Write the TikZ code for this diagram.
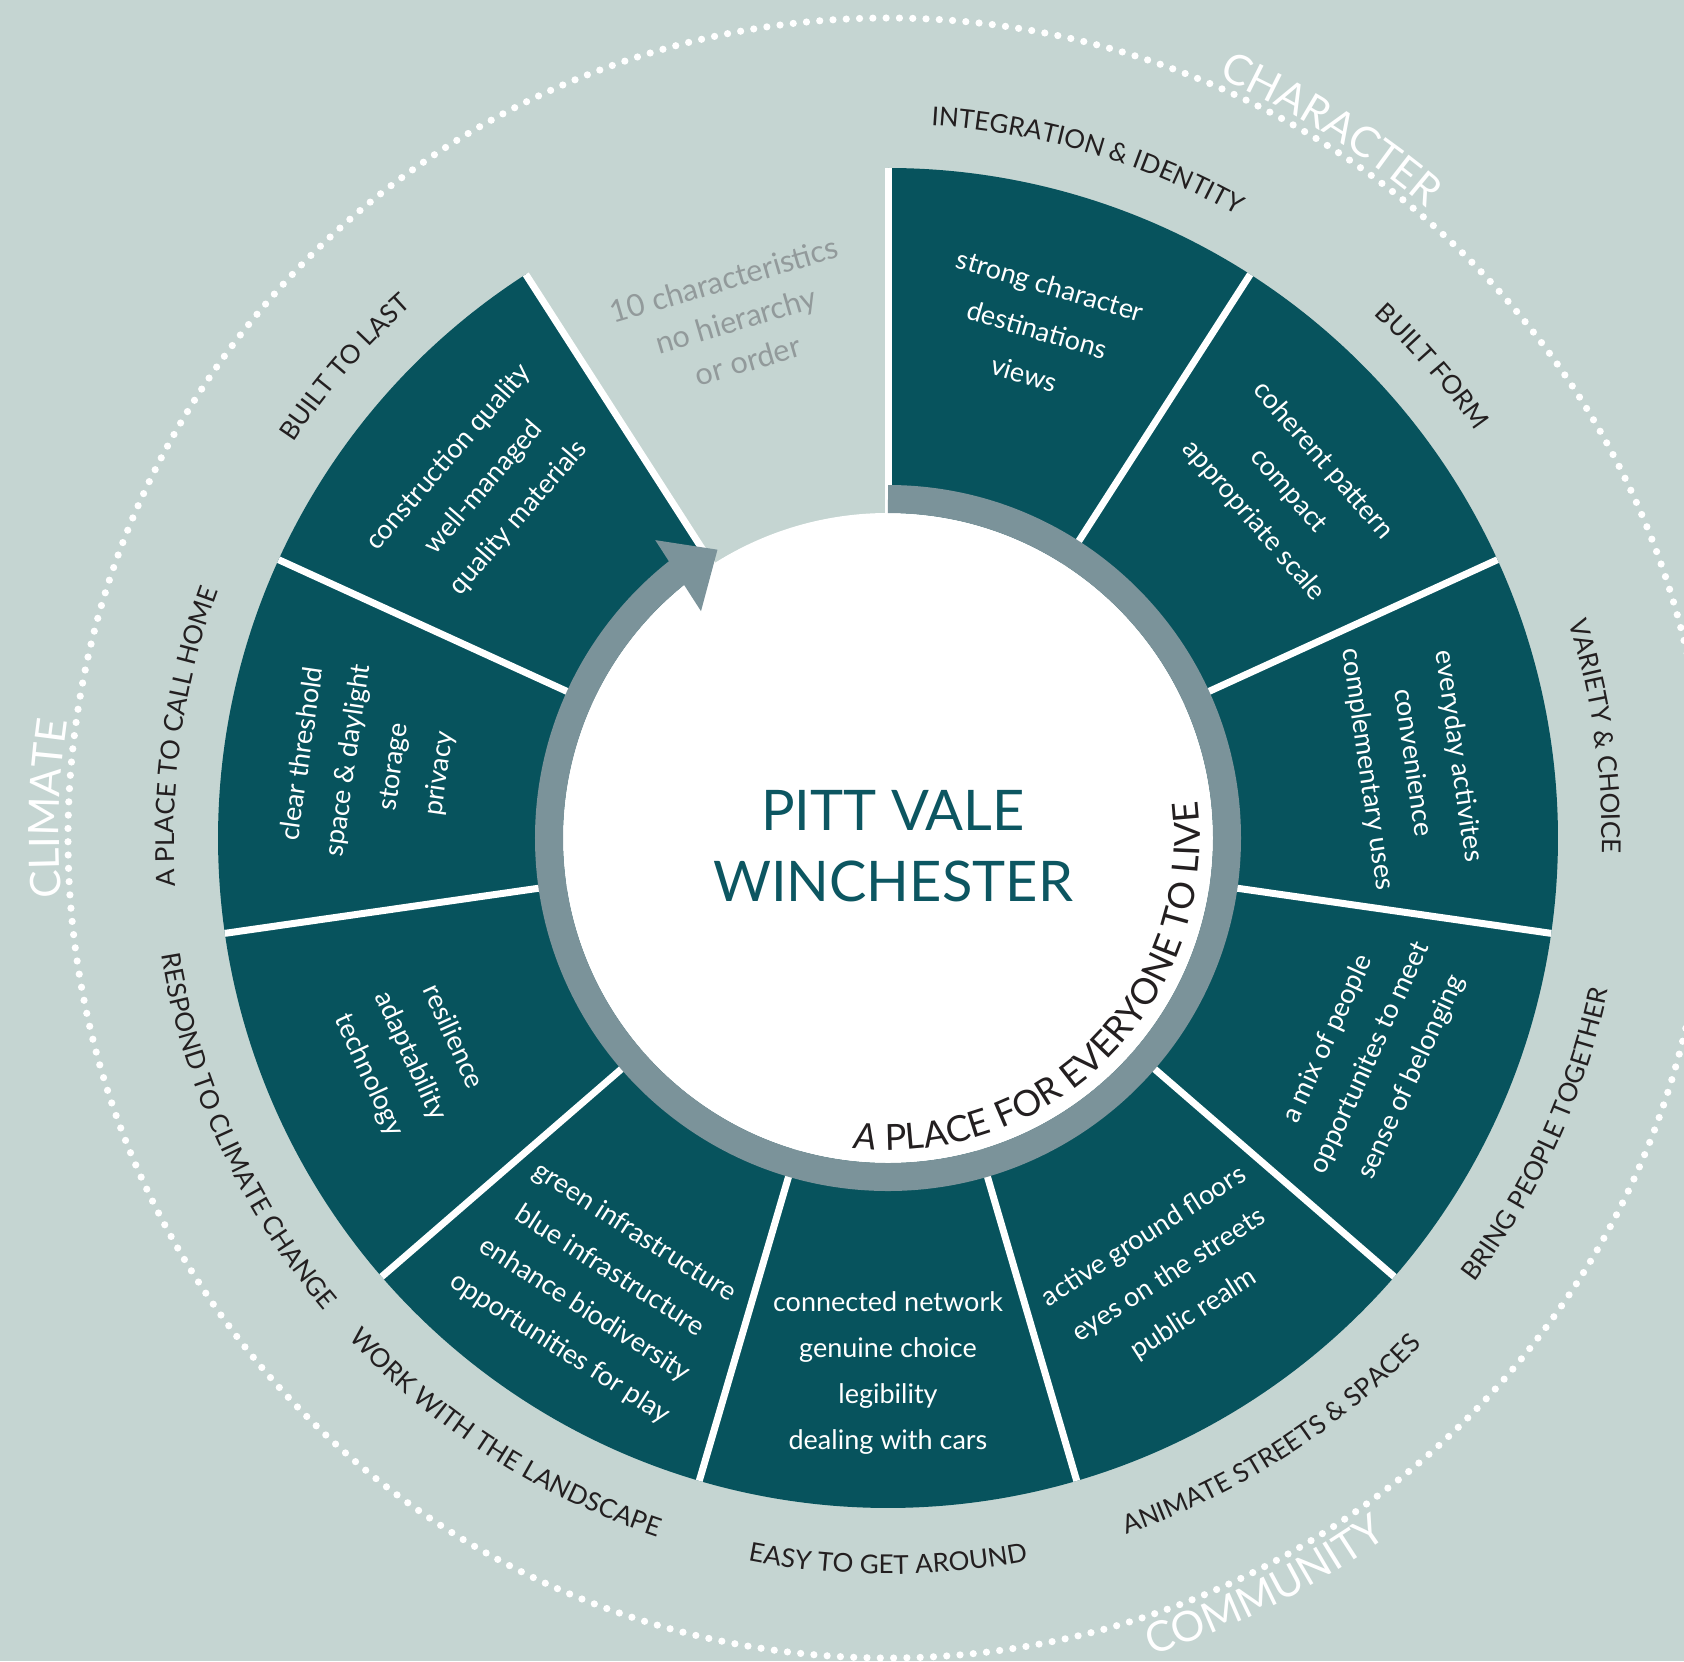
\documentclass[tikz,border=0pt]{standalone}
\usepackage{fontspec}
\setmainfont{Lato}
\usetikzlibrary{decorations.text}

\definecolor{bgcol}{HTML}{C5D5D2}
\definecolor{segcol}{HTML}{07535D}
\definecolor{ringcol}{HTML}{7B939A}
\definecolor{titlecol}{HTML}{0C5661}
\definecolor{gapink}{HTML}{929A9B}
\definecolor{labelink}{HTML}{231F20}

\newcommand\labfont{\fontsize{13}{13}\selectfont}
\newcommand\themefont{\fontsize{21}{21}\selectfont}
\newcommand\mottofont{\fontsize{18}{18}\selectfont}

% curved text along an arc: start angle, end angle, radius, format, colour, text
\newcommand\ringtext[6]{%
  \path[decorate, decoration={text along path, text align=center,
    text color=#5, text={|#4|#6}}] (#1:#3) arc[start angle=#1, end angle=#2, radius=#3];}

\begin{document}
\begin{tikzpicture}[x=0.5pt, y=0.5pt,
  segfill/.style={fill=segcol},
  divider/.style={draw=white, line width=3.5pt},
  segtext/.style={text=white, align=center, inner sep=0pt,
    font=\fontsize{13.5}{23}\selectfont},
  dotring/.style={draw=white, line width=3.6pt, line cap=round,
    dash pattern=on 0pt off 6.65pt}]

\useasboundingbox (-888,-823) rectangle (796,838);
\clip (-888,-823) rectangle (796,838);
\fill[bgcol] (-888,-823) rectangle (796,838);

% outer dotted ring with its three themes
\draw[dotring] (0,0) circle[radius=820];
\ringtext{88}{28}{829}{\themefont}{white}{CHARACTER}
\ringtext{208}{148}{829}{\themefont}{white}{CLIMATE}
\ringtext{-93.3}{-33.3}{859}{\themefont}{white}{COMMUNITY}

% ten characteristic sectors (one slot of eleven left open)
\def\sa{32.7272727}
\foreach \i in {0,...,9}{
  \pgfmathsetmacro\sta{90-\i*\sa}
  \pgfmathsetmacro\stb{90-(\i+1)*\sa}
  \fill[segfill] (\sta:325) arc[start angle=\sta, end angle=\stb, radius=325]
    -- (\stb:670) arc[start angle=\stb, end angle=\sta, radius=670] -- cycle;
}
\foreach \k in {0,...,10}{
  \pgfmathsetmacro\stc{90-\k*\sa}
  \draw[divider] (\stc:325) -- (\stc:670);
}

% sector titles around the rim
\ringtext{103.636}{43.636}{714}{\labfont}{labelink}{INTEGRATION {\&} IDENTITY}
\ringtext{70.909}{10.909}{714}{\labfont}{labelink}{BUILT FORM}
\ringtext{38.182}{-21.818}{714}{\labfont}{labelink}{VARIETY {\&} CHOICE}
\ringtext{-54.545}{5.455}{736}{\labfont}{labelink}{BRING PEOPLE TOGETHER}
\ringtext{-87.273}{-27.273}{736}{\labfont}{labelink}{ANIMATE STREETS {\&} SPACES}
\ringtext{-120}{-60}{736}{\labfont}{labelink}{EASY TO GET AROUND}
\ringtext{-152.727}{-92.727}{736}{\labfont}{labelink}{WORK WITH THE LANDSCAPE}
\ringtext{-185.455}{-125.455}{736}{\labfont}{labelink}{RESPOND TO CLIMATE CHANGE}
\ringtext{201.818}{141.818}{714}{\labfont}{labelink}{A PLACE TO CALL HOME}
\ringtext{169.091}{109.091}{714}{\labfont}{labelink}{BUILT TO LAST}

% sector contents
\node[segtext, rotate=-16.364] (s0) at (73.636:530) {strong character\\destinations\\views};
\node[segtext, rotate=-49.091] (s1) at (40.909:530) {coherent pattern\\compact\\appropriate scale};
\node[segtext, rotate=-81.818] (s2) at (8.182:530) {everyday activites\\convenience\\complementary uses};
\node[segtext, rotate=65.455] (s3) at (-24.545:530) {a mix of people\\opportunites to meet\\sense of belonging};
\node[segtext, rotate=32.727] (s4) at (-57.273:520) {active ground floors\\eyes on the streets\\public realm};
\node[segtext, rotate=0] (s5) at (-90:535) {connected network\\genuine choice\\legibility\\dealing with cars};
\node[segtext, rotate=-32.727] (s6) at (-122.727:538) {green infrastructure\\blue infrastructure\\enhance biodiversity\\opportunities for play};
\node[segtext, rotate=-65.455] (s7) at (-155.455:525) {resilience\\adaptability\\technology};
\node[segtext, rotate=81.818] (s8) at (171.818:522) {clear threshold\\space \& daylight\\storage\\privacy};
\node[segtext, rotate=49.091] (s9) at (139.091:535) {construction quality\\well-managed\\quality materials};

% note in the open slot
\node[text=gapink, align=center, inner sep=0pt, rotate=16.364,
  font=\fontsize{15.3}{21}\selectfont] (gapnote) at (106.364:540)
  {10 characteristics\\no hierarchy\\or order};

% centre disc and circular arrow
\fill[white] (0,0) circle[radius=325];
\draw[ringcol, line width=14pt] (90:339) arc[start angle=90, end angle=-232, radius=339];
\fill[ringcol] (128:378) -- (120.6:335) -- (129.5:294) -- cycle;

\node[text=titlecol, align=center, inner sep=0pt,
  font=\fontsize{28}{35.5}\selectfont] (title) at (5,-8) {PITT VALE\\WINCHESTER};

\ringtext{-104.8}{15.2}{312}{\mottofont}{labelink}{{\itshape A} PLACE FOR EVERYONE TO LIVE}

\end{tikzpicture}
\end{document}
